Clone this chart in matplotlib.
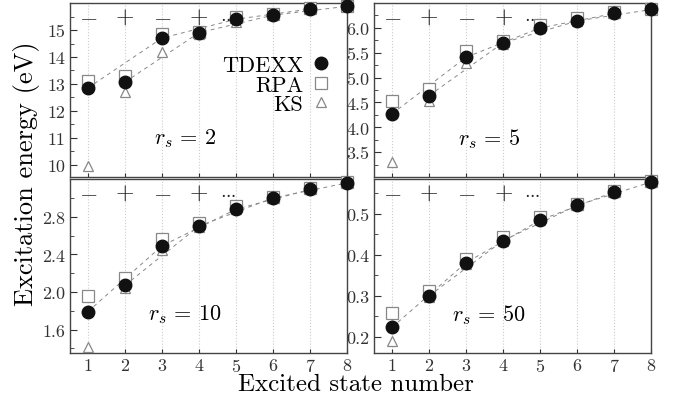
import matplotlib as mpl
import matplotlib.pyplot as plt
import numpy as np
from matplotlib.ticker import MultipleLocator, FixedLocator, FormatStrFormatter

mpl.use("Agg")
plt.rcParams.update({
    "font.family": "serif",
    "font.serif": ["cmr10"],
    "mathtext.fontset": "cm",
    "axes.unicode_minus": False,
    "axes.formatter.use_mathtext": True,
})

states = np.arange(1, 9)
parity = ["$-$", "$+$", "$-$", "$+$"]

# r_s = 2
tdexx_2 = [12.85, 13.07, 14.70, 14.90, 15.40, 15.55, 15.78, 15.88]
rpa_2 = [13.12, 13.30, 14.87, 14.92, 15.47, 15.60, 15.80, 15.90]
ks_2 = [9.95, 12.70, 14.20, 14.85, 15.30, 15.55, 15.78, 15.88]
yticks_2 = [10, 11, 12, 13, 14, 15]
# r_s = 5
tdexx_5 = [4.27, 4.64, 5.41, 5.70, 6.00, 6.14, 6.29, 6.37]
rpa_5 = [4.53, 4.78, 5.54, 5.74, 6.06, 6.19, 6.32, 6.38]
ks_5 = [3.31, 4.53, 5.29, 5.68, 5.99, 6.14, 6.29, 6.37]
yticks_5 = [3.5, 4.0, 4.5, 5.0, 5.5, 6.0]
# r_s = 10
tdexx_10 = [1.79, 2.07, 2.49, 2.70, 2.88, 3.00, 3.09, 3.16]
rpa_10 = [1.96, 2.15, 2.56, 2.73, 2.91, 3.01, 3.11, 3.17]
ks_10 = [1.42, 2.04, 2.45, 2.69, 2.88, 3.00, 3.09, 3.16]
yticks_10 = [1.6, 2.0, 2.4, 2.8]
# r_s = 50
tdexx_50 = [0.223, 0.300, 0.381, 0.435, 0.485, 0.521, 0.554, 0.578]
rpa_50 = [0.259, 0.311, 0.390, 0.443, 0.492, 0.524, 0.557, 0.580]
ks_50 = [0.190, 0.296, 0.377, 0.433, 0.484, 0.521, 0.554, 0.578]
yticks_50 = [0.2, 0.3, 0.4, 0.5]

panels = [
    ("2", tdexx_2, rpa_2, ks_2, (9.55, 16.0), yticks_2, 0.5, "%d"),
    ("5", tdexx_5, rpa_5, ks_5, (3.0, 6.5), yticks_5, 0.25, "%.1f"),
    ("10", tdexx_10, rpa_10, ks_10, (1.35, 3.2), yticks_10, 0.2, "%.1f"),
    ("50", tdexx_50, rpa_50, ks_50, (0.16, 0.585), yticks_50, 0.05, "%.1f"),
]

fig = plt.figure(figsize=(6.73, 4.02), dpi=100)
lefts = [0.104, 0.556]
bottoms = [0.557, 0.119]
w, h = 0.412, 0.433

gray = "#888888"
for k, (rs, td, rp, ks, ylim, yt, minor, fmt) in enumerate(panels):
    ax = fig.add_axes([lefts[k % 2], bottoms[k // 2], w, h])
    td = np.array(td)
    # dashed guides through odd and even states
    ax.plot(states[0::2], td[0::2], ls=(0, (4, 4)), color=gray, lw=0.7, zorder=1)
    ax.plot(states[1::2], td[1::2], ls=(0, (4, 4)), color=gray, lw=0.7, zorder=1)
    ax.plot(states, ks, "^", ms=7, mfc="white", mec=gray, mew=0.9, ls="none",
            clip_on=False, zorder=3, label="KS")
    ax.plot(states, rp, "s", ms=8.5, mfc="white", mec=gray, mew=0.9, ls="none",
            clip_on=False, zorder=4, label="RPA")
    ax.plot(states, td, "o", ms=9, color="#111111", ls="none",
            clip_on=False, zorder=5, label="TDEXX")

    for i, s in enumerate(parity):
        ax.text(i + 1, 0.925, s, transform=ax.get_xaxis_transform(),
                ha="center", va="center", fontsize=17, color="#222222")
    ax.text(4.78, 0.925, r"$\cdots$", transform=ax.get_xaxis_transform(),
            ha="center", va="center", fontsize=12, color="#222222")
    ax.text(0.415, 0.225, r"$r_s\,=\,%s$" % rs, transform=ax.transAxes,
            ha="center", va="center", fontsize=16)

    ax.set_xlim(0.52, 8.0)
    ax.set_ylim(*ylim)
    ax.set_xticks(states)
    ax.yaxis.set_major_locator(FixedLocator(yt))
    ax.yaxis.set_minor_locator(MultipleLocator(minor))
    ax.yaxis.set_major_formatter(FormatStrFormatter(fmt))
    ax.grid(axis="x", ls=":", color="#cccccc", lw=0.8)
    ax.tick_params(axis="both", which="both", direction="in", labelsize=13,
                   colors="#333333", labelcolor="#333333")
    ax.tick_params(axis="y", which="major", length=5)
    ax.tick_params(axis="y", which="minor", length=3)
    ax.tick_params(axis="x", length=3, pad=2.5)
    if k < 2:
        ax.tick_params(axis="x", labelbottom=False)
    for sp in ax.spines.values():
        sp.set_color("#444444")
        sp.set_linewidth(1.0)

    if k == 0:
        handles, labels = ax.get_legend_handles_labels()
        ax.legend(handles[::-1], labels[::-1], loc="upper right",
                  bbox_to_anchor=(0.97, 0.75), frameon=False, markerfirst=False,
                  fontsize=16, handlelength=0.8, handletextpad=0.4,
                  labelspacing=0.0, borderaxespad=0.0)

fig.text(0.039, 0.569, "Excitation energy (eV)", rotation=90, ha="center",
         va="center", fontsize=19)
fig.text(0.529, 0.028, "Excited state number", ha="center", va="baseline",
         fontsize=18)

fig.savefig("out.png", dpi=100)
